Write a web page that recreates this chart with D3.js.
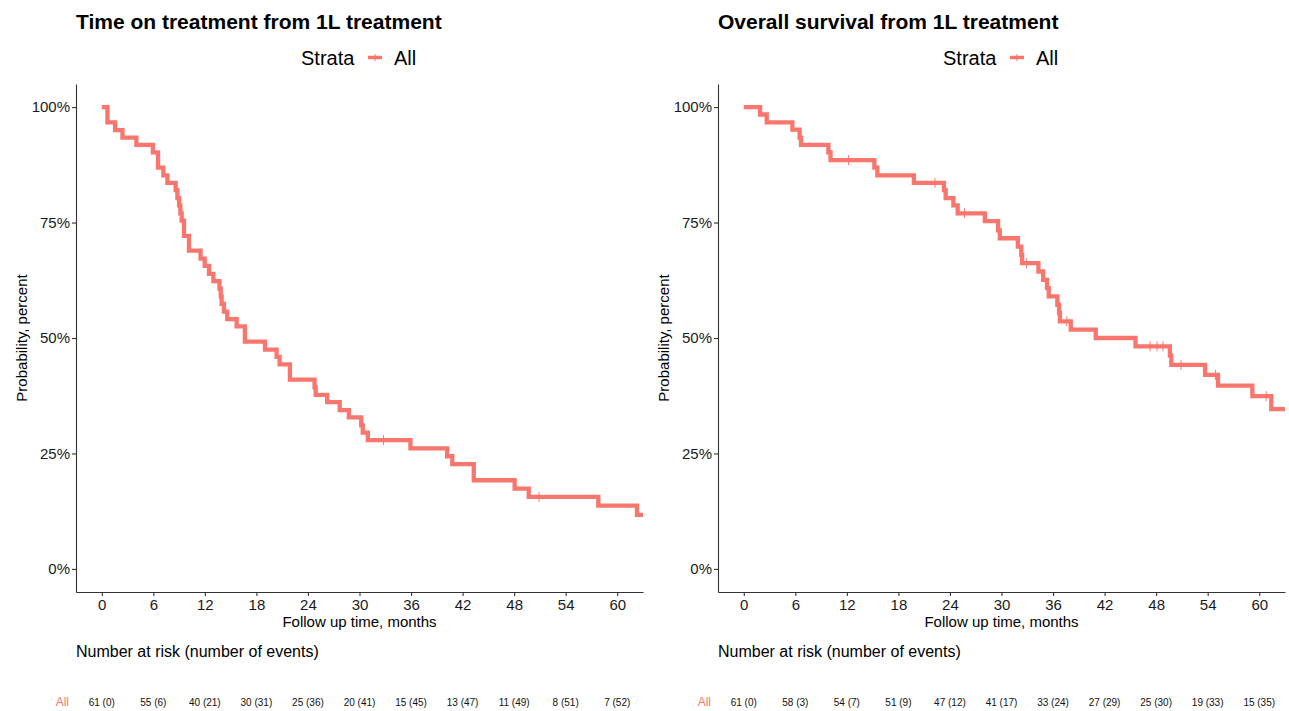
<!DOCTYPE html>
<html>
<head>
<meta charset="utf-8">
<script src="https://cdn.jsdelivr.net/npm/d3@7"></script>
<style>
  body { margin: 0; background: #fff; }
  svg { font-family: "Liberation Sans", Arial, sans-serif; }
</style>
</head>
<body>
<svg id="fig" width="1289" height="711"></svg>
<script>
// ---- data ----
// time on treatment: drop times (months) and survival after each drop
const tot_time = [0.66, 1.55, 2.41, 4.03, 5.95, 6.55, 7.17, 7.64, 8.6, 8.8, 9.0, 9.15, 9.3, 9.57, 10.15,
  11.5, 11.98, 12.48, 12.99, 13.7, 13.85, 13.95, 14.22, 14.6, 15.7, 16.66, 19.0, 20.35, 20.7, 21.9,
  24.77, 24.9, 26.24, 27.7, 28.76, 30.2, 30.38, 30.97, 35.93, 40.2, 40.8, 43.3, 48.06, 49.7, 57.8, 62.3]
const tot_surv = [0.967, 0.950, 0.934, 0.918, 0.902, 0.869, 0.852, 0.836, 0.820, 0.803, 0.787, 0.770, 0.754, 0.721, 0.689,
  0.672, 0.656, 0.639, 0.623, 0.607, 0.590, 0.574, 0.557, 0.541, 0.525, 0.492, 0.475, 0.459, 0.443, 0.410,
  0.393, 0.377, 0.361, 0.344, 0.328, 0.311, 0.295, 0.279, 0.261, 0.244, 0.227, 0.192, 0.174, 0.156, 0.137, 0.117]
const tot_censor = [32.8, 50.9]

// overall survival
const os_time = [1.9, 2.67, 5.66, 6.5, 6.66, 9.85, 10.1, 15.2, 15.55, 19.8, 23.3, 23.5, 24.4, 24.9, 28.06,
  29.6, 29.8, 31.9, 32.3, 32.4, 34.3, 34.85, 35.3, 35.5, 36.5, 36.7, 36.8, 38.06, 40.97, 45.6,
  49.6, 49.77, 53.7, 55.2, 59.2, 61.4]
const os_surv = [0.984, 0.967, 0.951, 0.934, 0.918, 0.902, 0.885, 0.869, 0.852, 0.836, 0.820, 0.803, 0.787, 0.770, 0.753,
  0.733, 0.716, 0.698, 0.680, 0.662, 0.644, 0.626, 0.608, 0.590, 0.572, 0.554, 0.536, 0.518, 0.500, 0.482,
  0.462, 0.442, 0.420, 0.397, 0.374, 0.346]
const os_censor = [12.2, 22.25, 25.7, 32.9, 37.6, 47.3, 48.1, 48.8, 50.9, 54.9, 60.8]

const risk_times = [0, 6, 12, 18, 24, 30, 36, 42, 48, 54, 60]
const tot_risk = ["61 (0)", "55 (6)", "40 (21)", "30 (31)", "25 (36)", "20 (41)", "15 (45)", "13 (47)", "11 (49)", "8 (51)", "7 (52)"]
const os_risk = ["61 (0)", "58 (3)", "54 (7)", "51 (9)", "47 (12)", "41 (17)", "33 (24)", "27 (29)", "25 (30)", "19 (33)", "15 (35)"]
const y_ticks = [0, 0.25, 0.5, 0.75, 1]

const col = "#F8766D"
const axisCol = "#333333"

const svg = d3.select('#fig')

// step value at time t (for placing censor marks)
function survAt(times, survs, t) {
  let s = 1
  for (let i = 0; i < times.length; i++) if (times[i] <= t) s = survs[i]
  return s
}

function drawPanel(left, title, times, survs, censors, risk, id) {
  const right = left + 567
  const top = 84, bottom = 592

  const x = d3.scaleLinear().domain([-3, 63]).range([left, right])
  const y = d3.scaleLinear().domain([-0.05, 1.05]).range([bottom, top])

  const g = svg.append("g")

  // title + legend
  g.append("text").attr("x", left).attr("y", 29)
    .attr("font-size", 21).attr("font-weight", "bold").attr("fill", "#000")
    .text(title)
  const lg = g.append("g").attr("transform", `translate(${left + 225},0)`)
  lg.append("text").attr("x", 0).attr("y", 65).attr("font-size", 20).text("Strata")
  lg.append("line").attr("x1", 67).attr("x2", 81).attr("y1", 57.5).attr("y2", 57.5)
    .attr("stroke", col).attr("stroke-width", 3.5)
  lg.append("line").attr("x1", 74).attr("x2", 74).attr("y1", 54).attr("y2", 61)
    .attr("stroke", col).attr("stroke-width", 1)
  lg.append("text").attr("x", 93).attr("y", 65).attr("font-size", 20).text("All")

  // clip
  svg.append("clipPath").attr("id", "clip" + id)
    .append("rect").attr("x", left).attr("y", top - 10).attr("width", right - left).attr("height", bottom - top + 10)

  // curve
  const pts = [[0, 1]].concat(times.map((t, i) => [t, survs[i]]))
  pts.push([63.5, survs[survs.length - 1]])
  const line = d3.line().x(d => x(d[0])).y(d => y(d[1])).curve(d3.curveStepAfter)
  const cg = g.append("g").attr("clip-path", `url(#clip${id})`)
  cg.append("path").datum(pts).attr("d", line)
    .attr("fill", "none").attr("stroke", col).attr("stroke-width", 4.3)
    .attr("stroke-linejoin", "miter")

  // censor marks
  cg.selectAll("line.cens").data(censors).join("line").attr("class", "cens")
    .attr("x1", d => x(d)).attr("x2", d => x(d))
    .attr("y1", d => y(survAt(times, survs, d)) - 5)
    .attr("y2", d => y(survAt(times, survs, d)) + 5)
    .attr("stroke", col).attr("stroke-width", 1)

  // axes
  const xAxis = d3.axisBottom(x).tickValues(risk_times).tickSize(4).tickSizeOuter(0)
  const yAxis = d3.axisLeft(y).tickValues(y_ticks).tickFormat(d => Math.round(d * 100) + "%").tickSize(4).tickSizeOuter(0)

  const gx = g.append("g").attr("transform", `translate(0,${bottom})`).call(xAxis)
  const gy = g.append("g").attr("transform", `translate(${left},0)`).call(yAxis)
  for (const a of [gx, gy]) {
    a.select(".domain").attr("stroke", axisCol).attr("stroke-width", 1.1)
    a.selectAll(".tick line").attr("stroke", axisCol).attr("stroke-width", 1.1)
    a.selectAll(".tick text").attr("font-size", 15).attr("fill", "#1a1a1a")
      .attr("font-family", "Liberation Sans, Arial, sans-serif")
  }
  gx.selectAll(".tick text").attr("dy", "0.71em").attr("y", 7)
  gy.selectAll(".tick text").attr("x", -6)

  // axis titles
  g.append("text").attr("x", (left + right) / 2).attr("y", 627)
    .attr("text-anchor", "middle").attr("font-size", 15).text("Follow up time, months")
  g.append("text").attr("transform", `translate(${left - 49},${y(0.5)}) rotate(-90)`)
    .attr("text-anchor", "middle").attr("font-size", 15).text("Probability, percent")

  // risk table
  g.append("text").attr("x", left).attr("y", 657).attr("font-size", 16).text("Number at risk (number of events)")
  g.append("text").attr("x", left - 7).attr("y", 706).attr("text-anchor", "end")
    .attr("font-size", 12).attr("fill", col).text("All")
  g.selectAll("text.risk").data(risk).join("text").attr("class", "risk")
    .attr("x", (d, i) => x(risk_times[i])).attr("y", 706)
    .attr("text-anchor", "middle").attr("font-size", 10).attr("fill", "#111")
    .text(d => d)
}

drawPanel(76, "Time on treatment from 1L treatment", tot_time, tot_surv, tot_censor, tot_risk, "a")
drawPanel(718, "Overall survival from 1L treatment", os_time, os_surv, os_censor, os_risk, "b")
</script>
</body>
</html>
